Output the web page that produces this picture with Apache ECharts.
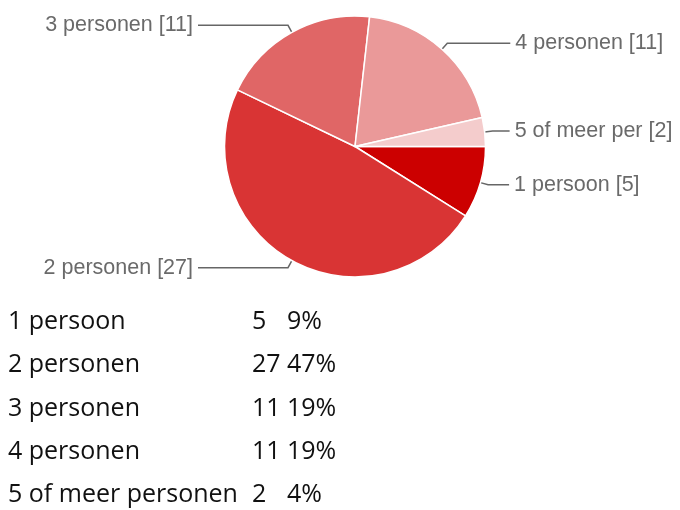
<!DOCTYPE html>
<html>
<head>
<meta charset="utf-8">
<script src="https://cdn.jsdelivr.net/npm/echarts@6/dist/echarts.min.js"></script>
<style>
  html, body { margin: 0; padding: 0; background: #fff; }
  #chart { width: 680px; height: 510px; }
</style>
</head>
<body>
<div id="chart"></div>
<script type="text/javascript">
// data
var categories = ['1 persoon', '2 personen', '3 personen', '4 personen', '5 of meer personen'];
var pieLabels  = ['1 persoon', '2 personen', '3 personen', '4 personen', '5 of meer per'];
var counts     = [5, 27, 11, 11, 2];
var percents   = ['9%', '47%', '19%', '19%', '4%'];

// styles per slice
var colors   = ['#cc0000', '#d93434', '#e06666', '#ea9999', '#f4cccc'];
var lineLen2 = [21, 90, 90, 63, 17];

var chart = echarts.init(document.getElementById('chart'));

var pieData = counts.map(function (v, i) {
    return {
        name: pieLabels[i],
        value: v,
        itemStyle: { color: colors[i] },
        labelLine: { length: 8, length2: lineLen2[i] }
    };
});

// table under the pie
var rowY = [321.5, 365, 408.5, 451.5, 495];
var tableFont = '25px "Open Sans", sans-serif';
var graphics = [];
categories.forEach(function (c, i) {
    graphics.push({ type: 'text', x: 8, y: rowY[i],
        style: { text: c, font: tableFont, fill: '#111', verticalAlign: 'middle' } });
    graphics.push({ type: 'text', x: 252, y: rowY[i],
        style: { text: String(counts[i]), font: tableFont, fill: '#111', verticalAlign: 'middle' } });
    graphics.push({ type: 'text', x: 287, y: rowY[i],
        style: { text: percents[i], font: tableFont, fill: '#111', verticalAlign: 'middle' } });
});

var option = {
    animation: false,
    graphic: graphics,
    series: [{
        type: 'pie',
        center: [355, 146.5],
        radius: 130.5,
        startAngle: 0,
        clockwise: true,
        data: pieData,
        itemStyle: { borderColor: '#fff', borderWidth: 1.5 },
        avoidLabelOverlap: false,
        label: {
            formatter: '{b} [{c}]',
            fontFamily: 'Liberation Sans, Arial, sans-serif',
            fontSize: 21.5,
            color: '#6a6a6a',
            distance: 6
        },
        labelLine: {
            lineStyle: { color: '#666', width: 1.5 }
        },
        emphasis: { disabled: true }
    }]
};

chart.setOption(option);
</script>
</body>
</html>
